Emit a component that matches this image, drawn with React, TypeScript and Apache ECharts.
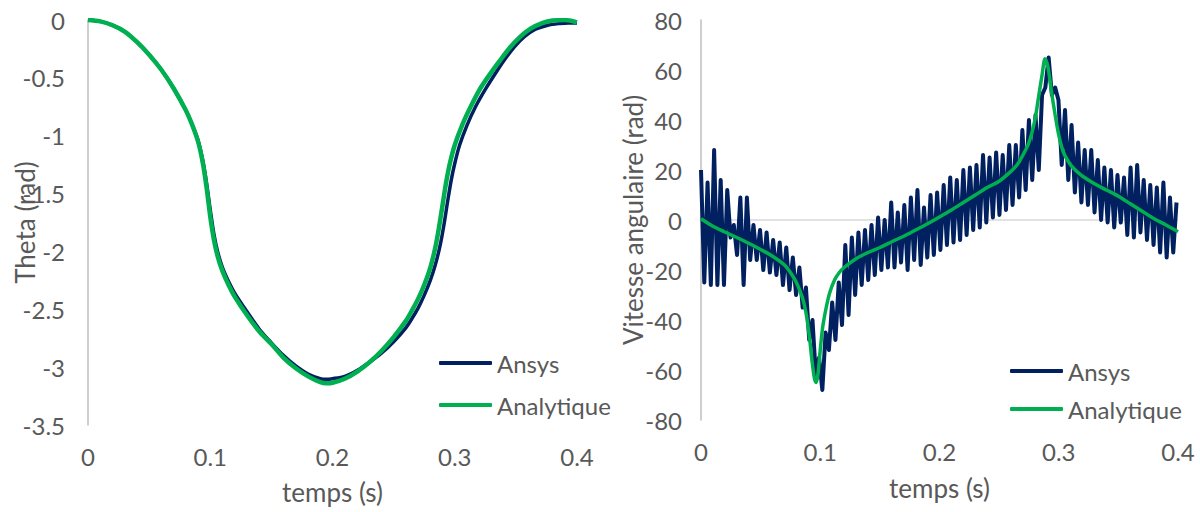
import { useEffect, useRef } from "react";
import * as echarts from "echarts";

const timeTicks = [0, 0.1, 0.2, 0.3, 0.4];
const thetaTicks = [-3.5, -3, -2.5, -2, -1.5, -1, -0.5, 0];
const velocityTicks = [-80, -60, -40, -20, 0, 20, 40, 60, 80];
const seriesNames = ["Ansys", "Analytique"];

const thetaAnalyticT = [
  0, 0.01, 0.02, 0.03, 0.04, 0.05, 0.06, 0.07, 0.08, 0.085, 0.09, 0.094, 0.097, 0.1, 0.103, 0.106,
  0.11, 0.115, 0.12, 0.13, 0.14, 0.15, 0.16, 0.17, 0.18, 0.19, 0.195, 0.2, 0.21, 0.22, 0.23, 0.24,
  0.25, 0.26, 0.265, 0.27, 0.275, 0.28, 0.284, 0.287, 0.29, 0.293, 0.296, 0.3, 0.306, 0.313, 0.321,
  0.33, 0.337, 0.345, 0.353, 0.362, 0.372, 0.38, 0.39, 0.4,
];
const thetaAnalytic = [
  0, -0.012, -0.045, -0.1, -0.19, -0.3, -0.43, -0.59, -0.78, -0.9, -1.05, -1.24, -1.45, -1.7, -1.9, -2.04,
  -2.17, -2.29, -2.39, -2.55, -2.69, -2.8, -2.92, -3.01, -3.08, -3.13, -3.14, -3.135, -3.1, -3.04, -2.96, -2.86,
  -2.74, -2.6, -2.51, -2.41, -2.29, -2.14, -1.97, -1.8, -1.6, -1.4, -1.24, -1.08, -0.91, -0.75, -0.59,
  -0.45, -0.35, -0.24, -0.15, -0.075, -0.025, -0.005, 0, -0.02,
];

const thetaAnsysT = [
  0, 0.01, 0.02, 0.03, 0.04, 0.05, 0.06, 0.07, 0.08, 0.085, 0.09, 0.094, 0.097, 0.1, 0.103, 0.106,
  0.11, 0.115, 0.12, 0.13, 0.14, 0.15, 0.16, 0.17, 0.18, 0.19, 0.195, 0.2, 0.21, 0.22, 0.23, 0.24,
  0.25, 0.26, 0.265, 0.27, 0.275, 0.28, 0.284, 0.288, 0.291, 0.294, 0.297, 0.3, 0.304, 0.31, 0.317,
  0.325, 0.334, 0.341, 0.349, 0.357, 0.366, 0.376, 0.386, 0.393, 0.4,
];
const thetaAnsys = [
  0, -0.012, -0.045, -0.1, -0.19, -0.3, -0.43, -0.59, -0.78, -0.9, -1.04, -1.22, -1.41, -1.64, -1.85, -2.0,
  -2.14, -2.26, -2.36, -2.52, -2.67, -2.79, -2.9, -2.99, -3.06, -3.1, -3.105, -3.1, -3.08, -3.03, -2.96, -2.88,
  -2.78, -2.66, -2.58, -2.49, -2.38, -2.25, -2.12, -1.95, -1.78, -1.58, -1.39, -1.24, -1.08, -0.91, -0.75,
  -0.6, -0.45, -0.34, -0.23, -0.145, -0.08, -0.045, -0.03, -0.025, -0.025,
];

const velAnalyticT = [
  0, 0.01, 0.02, 0.03, 0.04, 0.05, 0.06, 0.07, 0.075, 0.08, 0.085, 0.088, 0.091, 0.093, 0.095, 0.0965,
  0.098, 0.1, 0.102, 0.105, 0.108, 0.112, 0.116, 0.12, 0.13, 0.14, 0.15, 0.16, 0.17, 0.18, 0.19, 0.2,
  0.21, 0.22, 0.23, 0.24, 0.25, 0.26, 0.265, 0.27, 0.275, 0.28, 0.283, 0.286, 0.2885, 0.291, 0.294,
  0.297, 0.3, 0.304, 0.31, 0.315, 0.32, 0.33, 0.34, 0.35, 0.36, 0.37, 0.38, 0.39, 0.4,
];
const velAnalytic = [
  0.5, -2.5, -4.8, -7, -9.3, -11.8, -14.5, -18, -21, -25, -31, -37, -47, -56, -63, -65,
  -62, -52, -43, -35, -29, -24, -21, -19, -15.5, -13, -11, -8.7, -6.5, -4, -1.5, 1.2,
  4, 7, 10, 13, 15.5, 19.5, 22, 26, 31, 40, 49, 58, 64.5, 61, 51,
  42, 34, 27, 22, 19.5, 17.5, 14.5, 12, 9.5, 6.5, 3.5, 0.5, -2, -4.7,
];

// Ansys angular velocity, sampled every 0.00275 s from t = 0
const velAnsysStep = 0.00275;
const velAnsys = [
  20, -25, 15, -26, 28, -26, 16, -26, 12, -7, -2, -14, 9, -26, 9, -16,
  -2, -16, -4, -20, -5, -21, -8, -22, -9, -26, -11, -28, -15, -30, -19, -35,
  -27, -48, -40, -62, -55, -68, -45, -52, -33, -48, -25, -42, -10, -38, -7, -30,
  -5, -26, -4, -24, -2, -22, 1, -20, 0, -19, 7, -19, 3, -17, 6, -20,
  9, -16, 12, -18, 5, -15, 10, -14, 11, -12, 14, -10, 17, -9, 16, -8,
  20, -6, 21, -4, 22, -3, 26, -1, 25, 1, 27, 2, 26, 4, 30, 6,
  30, 9, 36, 12, 40, 16, 42, 20, 50, 53, 65, 50, 53, 48, 22, 44,
  16, 38, 11, 31, 7, 28, 6, 28, 3, 24, 0, 21, -1, 20, -3, 18,
  -1, 17, -6, 21, -7, 22, -5, 16, -8, 14, -10, 13, -13, 15, -15, 9,
  -13, 7,
];

const ANSYS_COLOR = "#002060";
const ANALYTIC_COLOR = "#00b050";
const TEXT_COLOR = "#595959";
const FONT = "Lato, 'Open Sans', sans-serif";

const pairs = (xs: number[], ys: number[]) => ys.map((y, i) => [xs[i], y]);

export default function App() {
  const ref = useRef<HTMLDivElement>(null);
  useEffect(() => {
    if (!ref.current) return;
    const chart = echarts.init(ref.current, undefined, { renderer: "svg" });
    const labelStyle = { color: TEXT_COLOR, fontSize: 24, fontFamily: FONT };
    const nameStyle = { color: TEXT_COLOR, fontSize: 26, fontFamily: FONT };
    const zeroLine = {
      silent: true,
      symbol: "none",
      z: 1,
      label: { show: false },
      emphasis: { disabled: true },
      lineStyle: { color: "#d9d9d9", width: 1.5, type: "solid" },
      data: [{ yAxis: 0 }],
    };
    const xAxisBase = {
      type: "value",
      min: timeTicks[0],
      max: timeTicks[timeTicks.length - 1],
      interval: timeTicks[1] - timeTicks[0],
      axisLine: { show: false, onZero: false },
      axisTick: { show: false },
      splitLine: { show: false },
      axisLabel: { ...labelStyle, margin: 19 },
      name: "temps (s)",
      nameLocation: "middle",
      nameMoveOverlap: false,
      nameTextStyle: nameStyle,
    };
    const yAxisBase = {
      type: "value",
      axisLine: { show: true, onZero: false, lineStyle: { color: "#bfbfbf", width: 1.5 } },
      axisTick: { show: false },
      splitLine: { show: false },
      nameLocation: "middle",
      nameMoveOverlap: false,
      nameRotate: 90,
      nameTextStyle: nameStyle,
    };
    const legendBase = {
      data: seriesNames,
      orient: "vertical",
      icon: "roundRect",
      itemWidth: 53,
      itemHeight: 4,
      textStyle: { color: TEXT_COLOR, fontSize: 24, fontFamily: FONT },
      selectedMode: false,
    };
    const lineBase = { type: "line", showSymbol: false, symbol: "none" };
    chart.setOption({
      animation: false,
      backgroundColor: "#ffffff",
      textStyle: { fontFamily: FONT },
      grid: [
        { left: 88, top: 20, width: 489, height: 405, outerBoundsMode: "none", containLabel: false },
        { left: 701, top: 20, width: 477, height: 400, outerBoundsMode: "none", containLabel: false },
      ],
      xAxis: [
        { ...xAxisBase, gridIndex: 0, nameGap: 54 },
        { ...xAxisBase, gridIndex: 1, nameGap: 55 },
      ],
      yAxis: [
        {
          ...yAxisBase,
          gridIndex: 0,
          min: thetaTicks[0],
          max: thetaTicks[thetaTicks.length - 1],
          interval: thetaTicks[1] - thetaTicks[0],
          axisLabel: { ...labelStyle, margin: 23 },
          name: "Theta (rad)",
          nameGap: 50,
        },
        {
          ...yAxisBase,
          gridIndex: 1,
          min: velocityTicks[0],
          max: velocityTicks[velocityTicks.length - 1],
          interval: velocityTicks[1] - velocityTicks[0],
          axisLabel: { ...labelStyle, margin: 19 },
          name: "Vitesse angulaire (rad)",
          nameGap: 55,
        },
      ],
      legend: [
        { ...legendBase, left: 434, top: 346, itemGap: 18 },
        { ...legendBase, left: 1005, top: 354, itemGap: 14 },
      ],
      series: [
        {
          ...lineBase,
          name: seriesNames[0],
          xAxisIndex: 0,
          yAxisIndex: 0,
          data: pairs(thetaAnsysT, thetaAnsys),
          smooth: 0.3,
          z: 2,
          lineStyle: { color: ANSYS_COLOR, width: 3.5 },
          itemStyle: { color: ANSYS_COLOR },
        },
        {
          ...lineBase,
          name: seriesNames[1],
          xAxisIndex: 0,
          yAxisIndex: 0,
          data: pairs(thetaAnalyticT, thetaAnalytic),
          smooth: 0.3,
          z: 3,
          lineStyle: { color: ANALYTIC_COLOR, width: 4.5 },
          itemStyle: { color: ANALYTIC_COLOR },
        },
        {
          ...lineBase,
          name: seriesNames[0],
          xAxisIndex: 1,
          yAxisIndex: 1,
          data: velAnsys.map((v, i) => [i * velAnsysStep, v]),
          z: 2,
          lineStyle: { color: ANSYS_COLOR, width: 4, join: "round" },
          itemStyle: { color: ANSYS_COLOR },
          markLine: zeroLine,
        },
        {
          ...lineBase,
          name: seriesNames[1],
          xAxisIndex: 1,
          yAxisIndex: 1,
          data: pairs(velAnalyticT, velAnalytic),
          smooth: 0.3,
          z: 3,
          lineStyle: { color: ANALYTIC_COLOR, width: 3.5 },
          itemStyle: { color: ANALYTIC_COLOR },
        },
      ],
    });
    return () => chart.dispose();
  }, []);
  return (
    <div
      ref={ref}
      style={{ position: "fixed", left: 0, top: 0, width: 1200, height: 512, background: "#fff" }}
    />
  );
}
